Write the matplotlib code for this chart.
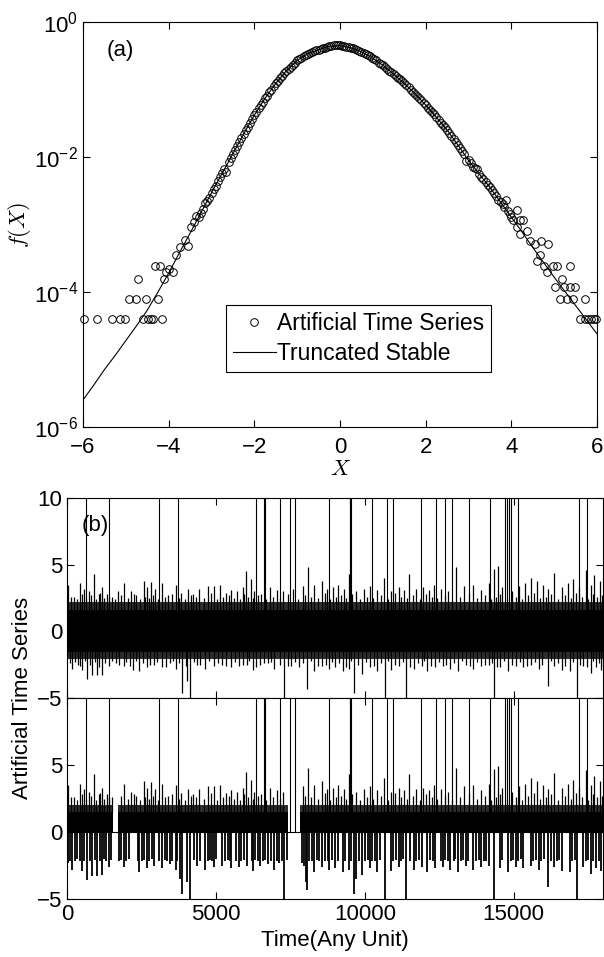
"""
Fig.: (a) PDF da série artificial vs. estável truncada (escala log);
(b) a série artificial no tempo, original (em cima) e transformada (embaixo).
"""
import numpy as np
import matplotlib
matplotlib.use("Agg")
import matplotlib.pyplot as plt
from matplotlib.ticker import NullLocator

plt.rcParams["font.family"] = ["Liberation Sans", "DejaVu Sans"]
plt.rcParams["mathtext.fontset"] = "cm"
plt.rcParams["font.size"] = 16
plt.rcParams["axes.linewidth"] = 0.8
plt.rcParams["xtick.direction"] = "in"
plt.rcParams["ytick.direction"] = "in"
plt.rcParams["xtick.top"] = True
plt.rcParams["ytick.right"] = True

PRETO = "black"
FRANJA = "#2e2e2e"   # borda densa da faixa de ruído (linhas quase encostadas)

# ---------------- (a) curva estável truncada (log10 de f, com sinal trocado)
CURVA_X = [-6.0, -5.75, -5.5, -5.25, -5.0, -4.75, -4.5, -4.25, -4.0, -3.75, -3.5,
           -3.25, -3.0, -2.75, -2.5, -2.25, -2.0, -1.75, -1.5, -1.25, -1.0, -0.75,
           -0.5, -0.25, 0.0, 0.25, 0.5, 0.75, 1.0, 1.25, 1.5, 1.75, 2.0, 2.25, 2.5,
           2.75, 3.0, 3.25, 3.5, 3.75, 4.0, 4.25, 4.5, 4.75, 5.0, 5.25, 5.5, 5.75, 6.0]
CURVA_DEC = [5.60, 5.38, 5.15, 4.94, 4.72, 4.50, 4.27, 4.00, 3.72, 3.42, 3.13,
             2.83, 2.53, 2.24, 1.95, 1.66, 1.38, 1.13, 0.91, 0.72, 0.57, 0.47,
             0.41, 0.36, 0.35, 0.38, 0.44, 0.53, 0.64, 0.77, 0.91, 1.06, 1.23, 1.41, 1.60,
             1.82, 2.05, 2.25, 2.45, 2.67, 2.89, 3.11, 3.34, 3.56, 3.78, 3.99, 4.20, 4.41, 4.62]

# círculos do miolo: classes de 0.05 de -3.30 a 3.75
MIOLO_X = np.round(np.arange(-3.30, 3.76, 0.05), 2)
MIOLO_DEC = [2.89, 2.83, 2.77, 2.68, 2.65, 2.60, 2.53, 2.47, 2.43, 2.36, 2.30, 2.24, 2.18, 2.22, 2.07, 2.01, 1.95,
             1.89, 1.84, 1.78, 1.72, 1.66, 1.60, 1.55, 1.49, 1.44, 1.38,
             1.33, 1.28, 1.23, 1.18, 1.13, 1.09, 1.04, 1.00, 0.95, 0.91,
             0.87, 0.83, 0.80, 0.76, 0.72, 0.69, 0.66, 0.63, 0.60, 0.57,
             0.55, 0.53, 0.51, 0.49, 0.47, 0.46, 0.45, 0.43, 0.42, 0.41,
             0.40, 0.39, 0.38, 0.37, 0.36, 0.35, 0.34, 0.34, 0.34,
             0.34, 0.35, 0.36, 0.365, 0.37, 0.38, 0.39, 0.40, 0.42, 0.43,
             0.44, 0.46, 0.48, 0.49, 0.51, 0.53, 0.55, 0.57, 0.60, 0.62,
             0.64, 0.67, 0.69, 0.72, 0.74, 0.77, 0.80, 0.83, 0.85, 0.88,
             0.91, 0.94, 0.97, 1.00, 1.03, 1.06, 1.09, 1.13, 1.16, 1.20,
             1.23, 1.27, 1.30, 1.34, 1.37, 1.41, 1.45, 1.49, 1.52, 1.56,
             1.60, 1.64, 1.69, 1.73, 1.78, 1.82, 1.87, 1.91, 1.96, 2.06,
             2.05, 2.09, 2.15, 2.17, 2.18, 2.25, 2.29, 2.33, 2.37, 2.41,
             2.45, 2.49, 2.54, 2.58, 2.63, 2.67]

# caudas (poucas contagens, ficam em degraus)
CAUDA_ESQ_X = [-5.98, -5.67, -5.32, -5.13, -5.01, -4.59, -4.49, -4.42, -4.37, -4.16,
               -4.93, -4.76, -4.53, -4.26, -4.72, -4.31, -4.21, -4.11, -4.06, -4.00,
               -3.90, -3.84, -3.73, -3.62, -3.55, -3.49, -3.41, -3.37]
CAUDA_ESQ_DEC = [4.40, 4.40, 4.40, 4.40, 4.40, 4.40, 4.40, 4.40, 4.40, 4.40,
                 4.10, 4.10, 4.10, 4.10, 3.80, 3.62, 3.62, 3.80, 3.70, 3.66,
                 3.70, 3.45, 3.33, 3.23, 3.32, 3.03, 2.96, 2.88]
CAUDA_DIR_X = [3.80, 3.83, 3.88, 3.93, 3.97, 4.00, 4.05, 4.13, 4.13, 4.20, 4.20, 4.27,
               4.36, 4.44, 4.55, 4.61, 4.66, 4.70, 4.77, 4.83, 4.86, 4.98, 5.06, 5.38,
               5.18, 5.02, 5.22, 5.36, 5.49, 5.14, 5.30, 5.45, 5.71,
               5.61, 5.73, 5.80, 5.86, 5.92, 5.98]
CAUDA_DIR_DEC = [2.70, 2.74, 2.64, 2.80, 2.84, 2.89, 2.93, 2.79, 3.04, 2.94, 3.14, 2.94,
                 3.09, 3.24, 3.29, 3.54, 3.45, 3.24, 3.61, 3.71, 3.29, 3.62, 3.62, 3.62,
                 3.80, 3.92, 3.92, 3.92, 3.92, 4.10, 4.10, 4.10, 4.10,
                 4.40, 4.40, 4.40, 4.40, 4.40, 4.40]

# ---------------- (b) série temporal
T_MAX = 18000
# núcleo sólido e franja densa da faixa de ruído, painel de cima
NUCLEO = (-1.55, 1.60)
FRANJA_SUP = 2.20
FRANJA_INF = -2.05

# traços altos acima da faixa
SOBE_T = [50, 230, 430, 555, 750, 900, 1070, 1160, 1330, 1520, 1715, 1910, 2165, 2320,
          2580, 2685, 2810, 2940, 3175, 3395, 3650, 3845, 4075, 4230, 4425, 4745, 4940,
          5135, 5330, 5520, 5715, 5910, 6010, 6165, 6295, 6525, 6810, 7045, 7265, 7585,
          7910, 8100, 8295, 8555, 8745, 8940, 9105, 9290, 9455, 9715, 9970, 10165,
          10400, 10655, 10875, 11135, 11325, 11495, 11715, 11970, 12165, 12330, 12550,
          12810, 13070, 13325, 13650, 13905, 14165, 14330, 14460, 14615, 14940, 15195,
          15390, 15585, 15775, 15970, 16165, 16355, 16615, 16820, 17000, 17195, 17415,
          17585, 17710, 17905]
SOBE_V = [3.5, 2.6, 3.6, 3.2, 3.0, 4.3, 2.8, 3.3, 2.8, 2.6, 3.0, 3.6, 3.0, 2.7,
          3.8, 3.3, 3.7, 3.2, 3.6, 2.7, 3.5, 2.9, 3.2, 2.8, 3.2, 3.4, 3.4,
          3.5, 2.9, 3.1, 3.0, 3.3, 4.5, 3.9, 3.0, 2.8, 3.3, 3.1, 3.0, 3.2,
          3.4, 4.8, 3.5, 3.8, 3.2, 3.3, 3.5, 3.2, 4.3, 3.0, 3.2, 3.4,
          3.1, 4.0, 3.0, 3.3, 3.1, 4.3, 3.2, 3.3, 3.1, 3.5, 3.2,
          3.0, 4.8, 3.4, 3.5, 3.1, 3.6, 4.7, 4.9, 3.3, 3.0, 3.4,
          3.6, 4.0, 3.8, 3.5, 3.2, 4.4, 3.3, 3.6, 3.9, 3.3, 4.6,
          3.5, 4.2, 3.8]
# traços curtos que deixam a borda de cima serrilhada
SOBE2_T = [140, 330, 490, 650, 820, 985, 1115, 1245, 1425, 1620, 1810,
           2040, 2240, 2450, 2630, 2750, 2875, 3060, 3285, 3520, 3750, 3960,
           4150, 4330, 4585, 4840, 5040, 5230, 5425, 5620, 5810, 5960, 6090,
           6230, 6410, 6670, 6930, 7155, 7425, 7750, 8000, 8200, 8425, 8650,
           8840, 9020, 9200, 9370, 9585, 9840, 10070, 10280, 10530, 10765, 11005,
           11230, 11410, 11605, 11840, 12070, 12250, 12440, 12680, 12940, 13200, 13490,
           13780, 14035, 14250, 14395, 14540, 14780, 15070, 15290, 15490, 15680, 15870,
           16070, 16260, 16485, 16720, 16910, 17100, 17305, 17500, 17650, 17810, 17960]
SOBE2_V = [2.6, 2.4, 2.8, 2.5, 2.7, 2.4, 2.9, 2.5, 2.6, 2.4, 2.7,
           2.5, 2.8, 2.4, 2.6, 2.5, 2.7, 2.4, 2.6, 2.8, 2.5, 2.4,
           2.7, 2.6, 2.5, 2.9, 2.4, 2.6, 2.7, 2.5, 2.4, 2.8, 2.6,
           2.5, 2.7, 2.4, 2.6, 2.5, 2.8, 2.4, 2.7, 2.6, 2.5, 2.9,
           2.4, 2.6, 2.7, 2.5, 2.8, 2.4, 2.6, 2.5, 2.7, 2.4, 2.9,
           2.6, 2.5, 2.7, 2.4, 2.8, 2.6, 2.5, 2.7, 2.4, 2.6, 2.9,
           2.5, 2.7, 2.4, 2.6, 2.8, 2.5, 2.6, 2.4, 2.7, 2.9, 2.5,
           2.6, 2.8, 2.4, 2.7, 2.5, 2.9, 2.6, 2.4, 2.8, 2.6, 2.7]

# traços abaixo da faixa (-6 = sai pelo fundo)
DESCE_T = [170, 360, 515, 685, 850, 1005, 1160, 1395, 1650, 1910, 2230, 2425, 2685,
           2915, 3200, 3455, 3650, 3870, 4040, 4140, 4360, 4620, 4940, 5200, 5520,
           5780, 6035, 6230, 6490, 6745, 6965, 7300, 7520, 7780, 8075, 8295, 8555,
           8810, 9005, 9260, 9455, 9650, 9905, 10165, 10425, 10680, 10875, 11135,
           11390, 11650, 11905, 12100, 12360, 12615, 12875, 13130, 13390, 13650,
           13905, 14165, 14330, 14550, 14810, 15065, 15325, 15585, 15840, 16165,
           16355, 16615, 16875, 17130, 17325, 17585, 17775, 17930]
DESCE_V = [-2.8, -2.5, -2.9, -3.6, -3.3, -3.3, -3.3, -2.6, -2.4, -2.6, -2.9, -3.0, -2.7,
           -2.5, -2.7, -2.4, -2.8, -4.6, -3.7, -6.0, -2.5, -2.8, -2.6, -2.5, -2.7,
           -2.6, -2.5, -2.9, -2.5, -2.4, -2.8, -6.0, -2.6, -2.7, -4.3, -3.0, -2.6,
           -2.8, -2.7, -3.0, -2.8, -4.6, -3.2, -2.7, -3.0, -6.0, -2.9, -2.6,
           -6.0, -2.8, -2.6, -3.0, -2.7, -2.6, -2.8, -3.0, -2.5, -2.8,
           -2.6, -2.5, -6.0, -2.7, -3.0, -2.6, -2.7, -2.5, -2.8, -4.1,
           -2.6, -2.9, -3.0, -6.0, -2.6, -3.1, -2.7, -2.9]
DESCE2_T = [90, 270, 440, 600, 760, 930, 1080, 1280, 1510, 1760, 1990,
            2120, 2330, 2540, 2800, 3020, 3330, 3560, 3760, 3980, 4250, 4480,
            4780, 5070, 5330, 5650, 5900, 6120, 6350, 6620, 6860, 7150, 7420,
            7650, 7920, 8180, 8420, 8700, 8900, 9130, 9360, 9550, 9780, 10040,
            10300, 10560, 10780, 11020, 11270, 11520, 11780, 12000, 12230, 12480, 12740,
            13000, 13260, 13520, 13780, 14040, 14260, 14450, 14680, 14940, 15200, 15450,
            15710, 15960, 16240, 16500, 16740, 17000, 17230, 17450, 17680, 17860, 17990]
DESCE2_V = [-2.4, -2.3, -2.6, -2.2, -2.5, -2.3, -2.7, -2.4, -2.2, -2.5, -2.3,
            -2.6, -2.2, -2.4, -2.5, -2.3, -2.7, -2.2, -2.4, -2.6, -2.3, -2.5,
            -2.2, -2.4, -2.6, -2.3, -2.5, -2.2, -2.7, -2.4, -2.3, -2.5, -2.6,
            -2.3, -2.4, -2.2, -2.6, -2.5, -2.3, -2.4, -2.7, -2.2, -2.5, -2.3,
            -2.6, -2.4, -2.2, -2.5, -2.3, -2.7, -2.4, -2.2, -2.6, -2.3, -2.5,
            -2.4, -2.2, -2.6, -2.3, -2.5, -2.4, -2.7, -2.2, -2.5, -2.3, -2.6,
            -2.3, -2.5, -2.2, -2.4, -2.6, -2.3, -2.5, -2.7, -2.2, -2.4, -2.6]

# picos que saem pelo topo (> 10)
PICO_T = [645, 1395, 3095, 3715, 6360, 6620, 6655, 7145, 7480, 7650, 8810, 9495,
          9520, 9545, 10245, 10745, 10940, 11880, 12395, 12680, 12915, 13495, 14205,
          14705, 14785, 14835, 14900, 15130, 17195, 17455]

# painel de baixo: faixa positiva (com buracos) e traços negativos
NUCLEO2 = 1.50
FRANJA2_SUP = 2.05
BURACO_INI = [1530, 7420]
BURACO_FIM = [1720, 7840]
NEG_T = [30, 110, 170, 260, 330, 420, 510, 560, 680, 760, 850, 930, 1010, 1100, 1160,
         1240, 1320, 1400, 1480,
         1740, 1820, 1910, 1990, 2080,
         2380, 2430, 2520, 2600, 2690, 2760, 2850, 2920,
         3090, 3200, 3280, 3360, 3455, 3520,
         3650, 3700, 3780, 3870, 4040, 4140,
         4260, 4360, 4450,
         4650, 4720, 4800, 4880, 4940, 5010,
         5200, 5300, 5390, 5470, 5520,
         5680, 5780, 5860, 5950, 6035,
         6200, 6230, 6320, 6400, 6490, 6580, 6660, 6745,
         6860, 6965, 7040, 7130, 7210, 7300, 7380,
         7880, 7960, 8020, 8075, 8140, 8220, 8295, 8380, 8460,
         8555, 8680, 8760, 8810, 8900, 9005, 9090,
         9260, 9340, 9455, 9530, 9650, 9720, 9800,
         9905, 10020, 10100, 10165, 10250, 10330, 10425, 10520, 10680,
         10875, 10950, 11050, 11135, 11220, 11290, 11390,
         11520, 11650, 11730, 11820, 11905,
         12100, 12200, 12290, 12360,
         12560, 12615, 12700, 12790, 12875, 12980, 13040,
         13130, 13220, 13300, 13390, 13480,
         13650, 13730, 13820, 13905, 13990, 14080, 14165, 14330,
         14550, 14600,
         14810, 14900, 14990, 15067, 15160, 15250, 15325,
         15585, 15660, 15750, 15840, 15930, 16010,
         16165, 16250, 16357, 16450, 16530, 16615,
         16875, 16960, 17050, 17131,
         17325, 17420, 17500, 17583, 17680, 17776, 17860, 17931]
NEG_V = [-2.3, -2.2, -2.8, -2.2, -2.0, -2.2, -2.9, -2.2, -3.6, -2.2, -3.3, -2.1, -3.3, -2.2, -3.2,
         -2.0, -2.2, -2.6, -2.1,
         -2.2, -2.1, -2.6, -2.2, -2.0,
         -2.2, -3.0, -2.2, -2.1, -2.7, -2.2, -2.0, -2.5,
         -2.2, -2.7, -2.1, -2.2, -2.4, -2.2,
         -2.8, -2.2, -3.5, -4.6, -3.7, -6.0,
         -2.1, -2.5, -2.2,
         -2.8, -2.2, -2.1, -2.2, -2.6, -2.0,
         -2.5, -2.2, -2.1, -2.2, -2.7,
         -2.2, -2.6, -2.2, -2.1, -2.5,
         -2.2, -2.9, -2.1, -2.2, -2.5, -2.2, -2.1, -2.4,
         -2.2, -2.8, -2.2, -2.3, -2.2, -6.0, -2.1,
         -2.3, -2.5, -3.7, -4.3, -2.2, -2.2, -3.0, -2.1, -2.2,
         -2.6, -2.2, -2.2, -2.8, -2.1, -2.7, -2.2,
         -3.0, -2.2, -2.8, -2.2, -4.6, -3.5, -2.2,
         -3.2, -2.2, -2.1, -2.7, -2.2, -2.2, -3.0, -2.1, -6.0,
         -2.9, -2.2, -2.1, -2.6, -2.2, -2.0, -6.0,
         -2.2, -2.8, -2.2, -2.1, -2.6,
         -3.0, -2.1, -2.2, -2.7,
         -2.2, -2.6, -2.1, -2.2, -2.8, -2.2, -2.0,
         -3.0, -2.2, -2.1, -2.5, -2.2,
         -2.8, -2.2, -2.1, -2.6, -2.2, -2.2, -2.5, -6.0,
         -2.7, -2.1,
         -3.0, -2.2, -2.1, -2.6, -2.2, -2.0, -2.7,
         -2.5, -2.2, -2.1, -2.8, -2.2, -2.0,
         -4.1, -2.2, -2.6, -2.2, -2.1, -2.9,
         -3.0, -2.2, -2.1, -6.0,
         -2.6, -2.2, -2.1, -3.1, -2.2, -2.7, -2.2, -2.9]


def _ticks(ax):
    ax.tick_params(length=5, width=0.8, labelsize=16)


def _eixo_tempo(ax):
    ax.set_xlim(0, T_MAX)
    ax.set_ylim(-5, 10)
    ax.set_xticks([0, 5000, 10000, 15000])
    ax.set_yticks([-5, 0, 5, 10])
    _ticks(ax)


def _fora_buracos(ts, vs):
    ok = [not any(a <= t <= b for a, b in zip(BURACO_INI, BURACO_FIM)) for t in ts]
    return np.array(ts)[ok], np.array(vs)[ok]


fig = plt.figure(figsize=(6.04, 9.57), dpi=100)

# ---------------- painel (a)
ax = fig.add_axes([83 / 604, 1 - 427 / 957, 514 / 604, 405 / 957])
ax.plot(CURVA_X, 10.0 ** -np.array(CURVA_DEC), color=PRETO, lw=0.8,
        label="Truncated Stable", zorder=2)
px = np.concatenate([CAUDA_ESQ_X, MIOLO_X, CAUDA_DIR_X])
py = 10.0 ** -np.concatenate([CAUDA_ESQ_DEC, MIOLO_DEC, CAUDA_DIR_DEC])
ax.plot(px, py, "o", ms=5.5, mfc="none", mec=PRETO, mew=0.7,
        label="Artificial Time Series", zorder=3, clip_on=False)
ax.set_yscale("log")
ax.set_xlim(-6, 6)
ax.set_ylim(1e-6, 1)
ax.set_xticks([-6, -4, -2, 0, 2, 4, 6])
ax.set_yticks([1, 1e-2, 1e-4, 1e-6])
ax.yaxis.set_minor_locator(NullLocator())
_ticks(ax)
ax.tick_params(axis="x", pad=7)
ax.set_ylabel(r"$f(X)$", fontsize=16)
ax.yaxis.set_label_coords(-0.097, 0.5)
ax.set_xlabel(r"$X$", fontsize=16)
ax.xaxis.set_label_coords(0.5, -0.079)
ax.text(0.045, 0.93, "(a)", transform=ax.transAxes, fontsize=16, va="center")
h, l = ax.get_legend_handles_labels()
ax.legend(h[::-1], l[::-1], loc="upper left", bbox_to_anchor=(0.279, 0.301),
          borderaxespad=0, fontsize=16.5, frameon=True, fancybox=False,
          edgecolor=PRETO, framealpha=1, handlelength=1.85, handletextpad=0.05,
          borderpad=0.3, labelspacing=0.3)
ax.get_legend().get_frame().set_linewidth(0.8)

# ---------------- painel (b), série original
ax2 = fig.add_axes([67 / 604, 1 - 698 / 957, 536 / 604, 200 / 957])
ax2.axhspan(FRANJA_INF, FRANJA_SUP, color=FRANJA, lw=0)
ax2.axhspan(*NUCLEO, color=PRETO, lw=0)
ax2.vlines(SOBE2_T, 1.5, SOBE2_V, color=PRETO, lw=0.9)
ax2.vlines(SOBE_T, 1.5, SOBE_V, color=PRETO, lw=0.9)
ax2.vlines(DESCE2_T, DESCE2_V, -1.5, color=PRETO, lw=0.9)
ax2.vlines(DESCE_T, DESCE_V, -1.5, color=PRETO, lw=0.9)
ax2.vlines(PICO_T, 0, 15, color=PRETO, lw=0.8)
_eixo_tempo(ax2)
ax2.set_xticklabels([])
ax2.text(0.028, 0.86, "(b)", transform=ax2.transAxes, fontsize=16, va="center")

# ---------------- painel (b), série transformada
ax3 = fig.add_axes([67 / 604, 1 - 899 / 957, 536 / 604, 201 / 957])
ax3.axhspan(0, FRANJA2_SUP, color=FRANJA, lw=0)
ax3.axhspan(0, NUCLEO2, color=PRETO, lw=0)
for a, b in zip(BURACO_INI, BURACO_FIM):
    ax3.fill_between([a, b], 0, 2.3, color="white", lw=0, zorder=2)
ax3.axhline(0, color=PRETO, lw=0.8, zorder=3)
for ts, vs in ((SOBE2_T, SOBE2_V), (SOBE_T, SOBE_V)):
    t, v = _fora_buracos(ts, vs)
    ax3.vlines(t, 1.4, v, color=PRETO, lw=0.9, zorder=3)
ax3.vlines(NEG_T, NEG_V, 0, color=PRETO, lw=1.3)
ax3.vlines(PICO_T, 0, 15, color=PRETO, lw=0.8, zorder=4)
_eixo_tempo(ax3)
ax3.set_yticklabels(["\u22125", "0", "5", ""])
ax3.set_xlabel("Time(Any Unit)", fontsize=16)
ax3.xaxis.set_label_coords(0.5, -0.155)

fig.text(23 / 604, 1 - 698 / 957, "Artificial Time Series", rotation=90,
         ha="center", va="center", fontsize=16)

fig.savefig("out.png", dpi=100, facecolor="white")
